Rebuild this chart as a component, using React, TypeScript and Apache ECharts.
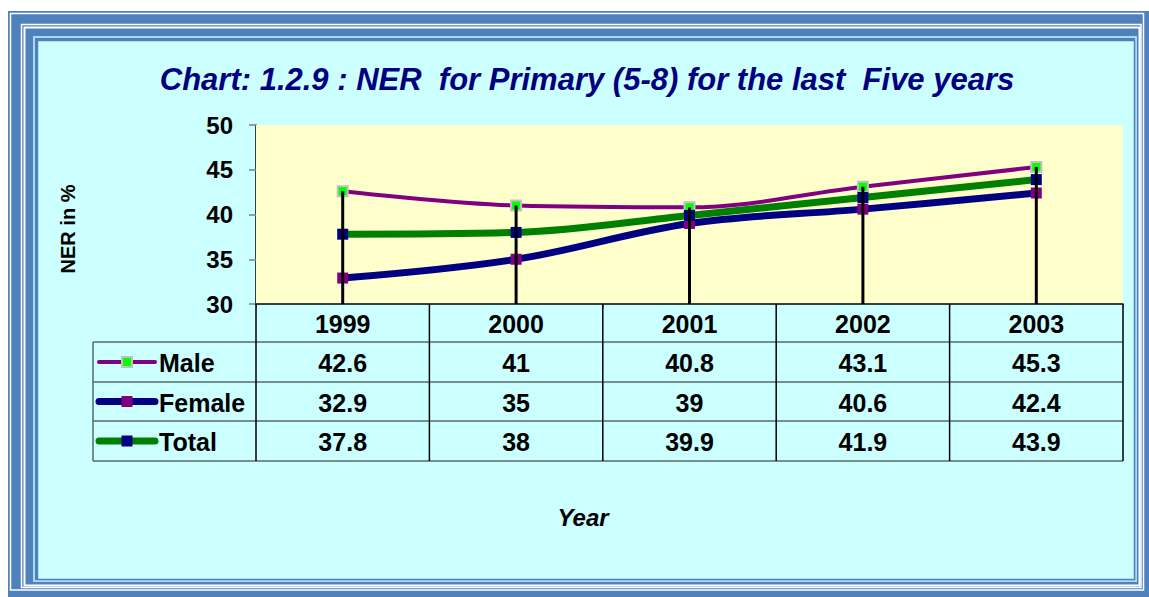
import React, { useEffect, useRef } from "react";
import * as echarts from "echarts";

const years = ["1999", "2000", "2001", "2002", "2003"];
const male = [42.6, 41, 40.8, 43.1, 45.3];
const female = [32.9, 35, 39, 40.6, 42.4];
const total = [37.8, 38, 39.9, 41.9, 43.9];
const seriesNames = ["Male", "Female", "Total"];
const yMin = 30;
const yMax = 50;
const yStep = 5;

const FONT = 'Arial, "Liberation Sans", sans-serif';
const W = 1149;
const H = 597;
const GRID = { left: 256, top: 125, right: 1123, bottom: 304 };

const lineStyles = [
  { line: "#800080", width: 4, marker: "#00FF00", border: "#C0C0C0", bw: 2, size: 10 },
  { line: "#000080", width: 7, marker: "#800080", border: "#800080", bw: 0, size: 11 },
  { line: "#008000", width: 7, marker: "#000080", border: "#000080", bw: 0, size: 11 },
];

export default function App() {
  const ref = useRef<HTMLDivElement>(null);

  useEffect(() => {
    if (!ref.current) return;
    const chart = echarts.init(ref.current, null, { renderer: "svg" });
    const values = [male, female, total];

    const series: any[] = values.map((d, i) => ({
      name: seriesNames[i],
      type: "line",
      data: d,
      smooth: 0.35,
      symbol: "rect",
      symbolSize: lineStyles[i].size,
      lineStyle: { color: lineStyles[i].line, width: lineStyles[i].width },
      itemStyle: {
        color: lineStyles[i].marker,
        borderColor: lineStyles[i].border,
        borderWidth: lineStyles[i].bw,
      },
      z: 2 + i * 0.1,
      silent: true,
    }));
    // high-low (drop) lines from axis to highest value
    series.push({
      type: "bar",
      data: years.map((_, k) => Math.max(male[k], female[k], total[k])),
      barWidth: 3,
      itemStyle: { color: "#000000" },
      z: 5,
      silent: true,
    });

    const frame: any[] = [
      { type: "rect", shape: { x: 8, y: 11, width: W - 8, height: H - 11 }, style: { fill: "#4F81BD" }, silent: true },
      { type: "rect", shape: { x: 10.5, y: 13.5, width: 1133, height: 576.5 }, style: { fill: "none", stroke: "#FFFFFF", lineWidth: 1.5 }, silent: true },
      { type: "rect", shape: { x: 21.5, y: 24.5, width: 1119.5, height: 563 }, style: { fill: "none", stroke: "#FFFFFF", lineWidth: 1.5 }, silent: true },
      { type: "rect", shape: { x: 24.5, y: 27.5, width: 1115, height: 558 }, style: { fill: "none", stroke: "#FFFFFF", lineWidth: 2 }, silent: true },
      { type: "rect", shape: { x: 34, y: 37, width: 1102, height: 544 }, style: { fill: "none", stroke: "#A9D8F0", lineWidth: 2 }, silent: true },
      { type: "rect", shape: { x: 37.5, y: 40.5, width: 1097, height: 539 }, style: { fill: "#CCFFFF", stroke: "#4F81BD", lineWidth: 1.5 }, silent: true },
    ];

    chart.setOption({
      animation: false,
      backgroundColor: "transparent",
      grid: {
        left: GRID.left,
        top: GRID.top,
        right: W - GRID.right,
        bottom: H - GRID.bottom,
        show: true,
        backgroundColor: "#FFFFCC",
        borderWidth: 0,
        z: 1,
      },
      xAxis: {
        type: "category",
        data: years,
        boundaryGap: true,
        axisLine: { show: true, lineStyle: { color: "#000000", width: 1.5 } },
        axisTick: { show: true, interval: 0, length: 4, lineStyle: { color: "#808080" } },
        axisLabel: { show: false },
        splitLine: { show: false },
        z: 6,
      },
      yAxis: {
        type: "value",
        min: yMin,
        max: yMax,
        interval: yStep,
        axisLine: { show: true, lineStyle: { color: "#000000", width: 1.5 } },
        axisTick: { show: true, length: 7, lineStyle: { color: "#808080", width: 1.5 } },
        axisLabel: {
          color: "#000000",
          fontFamily: FONT,
          fontWeight: "bold",
          fontSize: 24,
          margin: 23,
        },
        splitLine: { show: false },
      },
      graphic: { elements: frame },
      series,
    });

    // Build data table using the axis positions
    const xs = years.map((_, i) => chart.convertToPixel({ xAxisIndex: 0 }, i) as number);
    const colW = xs.length > 1 ? xs[1] - xs[0] : 173;
    const bounds = [GRID.left, ...xs.map((x) => x + colW / 2)];
    const rowLines = [342, 382, 421, 461];
    const tableLeft = 93;
    const tableRight = GRID.right;
    const els: any[] = [];
    const gray = "#5A6A6A";
    rowLines.forEach((y) => {
      els.push({ type: "line", shape: { x1: tableLeft, y1: y, x2: tableRight, y2: y }, style: { stroke: gray, lineWidth: 1.5 }, silent: true, z: 10 });
    });
    els.push({ type: "line", shape: { x1: tableLeft, y1: rowLines[0], x2: tableLeft, y2: rowLines[3] }, style: { stroke: gray, lineWidth: 1.5 }, silent: true, z: 10 });
    bounds.forEach((x) => {
      els.push({ type: "line", shape: { x1: x, y1: GRID.bottom, x2: x, y2: rowLines[3] }, style: { stroke: "#000000", lineWidth: 1.5 }, silent: true, z: 10 });
    });
    // Year header
    years.forEach((yr, i) => {
      els.push({
        type: "text", x: xs[i], y: (GRID.bottom + rowLines[0]) / 2 + 1, silent: true, z: 11,
        style: { text: yr, fill: "#000000", font: `bold 25px ${FONT}`, textAlign: "center", textVerticalAlign: "middle" },
      });
    });
    values.forEach((d, r) => {
      const yTop = rowLines[r];
      const yBot = rowLines[r + 1];
      const cy = (yTop + yBot) / 2 + 1;
      d.forEach((v, i) => {
        els.push({
          type: "text", x: xs[i], y: cy, silent: true, z: 11,
          style: { text: String(v), fill: "#000000", font: `bold 25px ${FONT}`, textAlign: "center", textVerticalAlign: "middle" },
        });
      });
      const ls = lineStyles[r];
      els.push({
        type: "line", shape: { x1: 99, y1: cy - 1, x2: 155, y2: cy - 1 },
        style: { stroke: ls.line, lineWidth: ls.width, lineCap: "round" }, silent: true, z: 11,
      });
      const s = ls.size;
      els.push({
        type: "rect", shape: { x: 127 - s / 2, y: cy - 1 - s / 2, width: s, height: s },
        style: { fill: ls.marker, stroke: ls.bw ? ls.border : null, lineWidth: ls.bw }, silent: true, z: 12,
      });
      els.push({
        type: "text", x: 159, y: cy, silent: true, z: 11,
        style: { text: seriesNames[r], fill: "#000000", font: `bold 25px ${FONT}`, textAlign: "left", textVerticalAlign: "middle" },
      });
    });
    // Titles
    els.push({
      type: "text", x: 587, y: 79, silent: true, z: 11,
      style: { text: "Chart: 1.2.9 : NER  for Primary (5-8) for the last  Five years", fill: "#000080", font: `italic bold 31px ${FONT}`, textAlign: "center", textVerticalAlign: "middle" },
    });
    els.push({
      type: "text", x: 68, y: 229, rotation: Math.PI / 2, silent: true, z: 11,
      style: { text: "NER in %", fill: "#000000", font: `bold 20px ${FONT}`, textAlign: "center", textVerticalAlign: "middle" },
    });
    els.push({
      type: "text", x: 583, y: 517, silent: true, z: 11,
      style: { text: "Year", fill: "#000000", font: `italic bold 24px ${FONT}`, textAlign: "center", textVerticalAlign: "middle" },
    });

    chart.setOption({ graphic: { elements: [...frame, ...els] } });

    return () => chart.dispose();
  }, []);

  return (
    <div
      ref={ref}
      style={{ position: "absolute", left: 0, top: 0, width: W, height: H }}
    />
  );
}
